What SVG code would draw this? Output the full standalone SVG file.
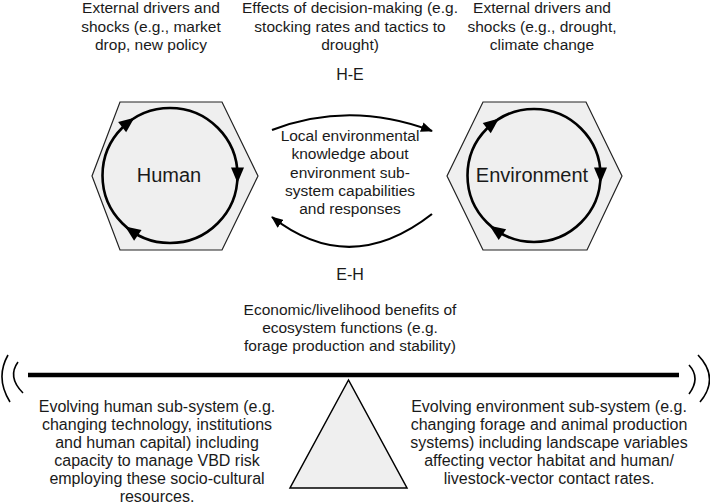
<svg xmlns="http://www.w3.org/2000/svg" xmlns:xlink="http://www.w3.org/1999/xlink" width="710" height="504" viewBox="0 0 710 504">
<defs>
<style>
text{font-family:"Liberation Sans",Arial,Helvetica,sans-serif;fill:#1a1a1a;text-anchor:middle}
.t{font-size:15.5px}
.b{font-size:16px}
.lbl{font-size:16px}
.big{font-size:20px}
.hex{fill:#efefef;stroke:#222;stroke-width:1.2}
.cyc{fill:none;stroke:#000;stroke-width:2.6}
.arc{fill:none;stroke:#000;stroke-width:2.2}
.par{fill:none;stroke:#000;stroke-width:1.6}
</style>
<path id="ah" d="M -6.5 -8 L 6.5 -8 L 0 7.5 Z" fill="#000"/>
<marker id="mk" viewBox="0 0 12 10" refX="11" refY="5" markerWidth="12" markerHeight="10" markerUnits="userSpaceOnUse" orient="auto">
<path d="M0 0 L12 5 L0 10 Z" fill="#000"/>
</marker>
</defs>
<rect width="710" height="504" fill="#fff"/>

<g id="top-left-text">
<text class="t" x="151" y="13">External drivers and</text>
<text class="t" x="151" y="31.5">shocks (e.g., market</text>
<text class="t" x="151" y="50">drop, new policy</text>
</g>
<g id="top-mid-text">
<text class="t" x="350" y="13">Effects of decision-making (e.g.</text>
<text class="t" x="350" y="31.5">stocking rates and tactics to</text>
<text class="t" x="350" y="50">drought)</text>
</g>
<g id="top-right-text">
<text class="t" x="542" y="13">External drivers and</text>
<text class="t" x="542" y="31.5">shocks (e.g., drought,</text>
<text class="t" x="542" y="50">climate change</text>
</g>

<g id="human">
<polygon class="hex" points="92,176 120,102 222,102 258,176 222,250 120,250"/>
<circle class="cyc" cx="170" cy="175.5" r="67.5"/>
<use xlink:href="#ah" transform="translate(170,175.5) rotate(0) translate(67.5,0)"/>
<use xlink:href="#ah" transform="translate(170,175.5) rotate(-128) translate(67.5,0)"/>
<use xlink:href="#ah" transform="translate(170,175.5) rotate(125) translate(67.5,0)"/>
<text class="big" x="169" y="182">Human</text>
</g>

<g id="environment">
<polygon class="hex" points="447,176 483,102 586,102 622,176 587,250 483,250"/>
<circle class="cyc" cx="534" cy="175.5" r="66.5"/>
<use xlink:href="#ah" transform="translate(534,175.5) rotate(0) translate(66.5,0)"/>
<use xlink:href="#ah" transform="translate(534,175.5) rotate(-128) translate(66.5,0)"/>
<use xlink:href="#ah" transform="translate(534,175.5) rotate(125) translate(66.5,0)"/>
<text class="big" x="532" y="182">Environment</text>
</g>

<g id="connectors">
<path class="arc" d="M 272 130 Q 350 100 432 131" marker-end="url(#mk)"/>
<path class="arc" d="M 432 214 Q 350 278 272 217" marker-end="url(#mk)"/>
</g>

<g id="he-label"><text class="lbl" x="350" y="80">H-E</text></g>
<g id="eh-label"><text class="lbl" x="350" y="280">E-H</text></g>

<g id="mid-text">
<text class="t" x="350" y="141">Local environmental</text>
<text class="t" x="350" y="159.3">knowledge about</text>
<text class="t" x="350" y="177.6">environment sub-</text>
<text class="t" x="350" y="195.9">system capabilities</text>
<text class="t" x="350" y="214.2">and responses</text>
</g>

<g id="benefits-text">
<text class="t" x="350" y="315">Economic/livelihood benefits of</text>
<text class="t" x="350" y="333">ecosystem functions (e.g.</text>
<text class="t" x="350" y="351">forage production and stability)</text>
</g>

<g id="balance">
<path class="par" d="M 8 355 Q -5 378 10 402"/>
<path class="par" d="M 18 362 Q 7 377 23 393"/>
<path class="par" d="M 689 365 Q 701 378 689 394"/>
<path class="par" d="M 698 355 Q 720 378 700 402"/>
<line x1="28" y1="375" x2="679" y2="375" stroke="#000" stroke-width="4.5"/>
<polygon points="348.5,380 290,488 407,488" fill="#efefef" stroke="#000" stroke-width="1.5"/>
</g>

<g id="bottom-left-text">
<text class="b" x="157" y="412">Evolving human sub-system (e.g.</text>
<text class="b" x="157" y="430">changing technology, institutions</text>
<text class="b" x="157" y="448">and human capital) including</text>
<text class="b" x="157" y="466">capacity to manage VBD risk</text>
<text class="b" x="157" y="484">employing these socio-cultural</text>
<text class="b" x="157" y="502">resources.</text>
</g>
<g id="bottom-right-text">
<text class="b" x="549" y="412">Evolving environment sub-system (e.g.</text>
<text class="b" x="549" y="430">changing forage and animal production</text>
<text class="b" x="549" y="448">systems) including landscape variables</text>
<text class="b" x="549" y="466">affecting vector habitat and human/</text>
<text class="b" x="549" y="484">livestock-vector contact rates.</text>
</g>
</svg>
